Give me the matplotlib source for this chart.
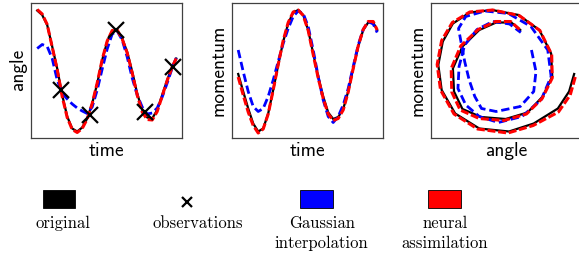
import matplotlib
matplotlib.use("Agg")
import matplotlib.pyplot as plt
from matplotlib.patches import Rectangle

# time grid (arbitrary units)
time = [0.0, 0.25, 0.5, 0.75, 1.0, 1.25, 1.5, 1.75, 2.0, 2.25, 2.5, 2.75, 3.0, 3.25,
        3.5, 3.75, 4.0, 4.25, 4.5, 4.75, 5.0, 5.25, 5.5, 5.75, 6.0, 6.25, 6.5, 6.75, 6.95]

# original trajectory
angle_true = [1.19, 1.10, 0.90, 0.47, 0.03, -0.50, -0.93, -1.17, -1.23, -1.15, -0.97, -0.67,
              -0.27, 0.20, 0.57, 0.78, 0.80, 0.63, 0.36, -0.03, -0.47, -0.80, -0.95, -0.97,
              -0.80, -0.50, -0.20, 0.07, 0.23]
momentum_true = [-0.08, -0.43, -0.77, -1.07, -1.23, -1.17, -0.87, -0.40, 0.10, 0.57, 0.93, 1.15,
                 1.20, 1.10, 0.80, 0.33, -0.13, -0.53, -0.85, -0.98, -0.94, -0.78, -0.43, 0.03,
                 0.47, 0.80, 0.95, 0.95, 0.80]

# Gaussian interpolation
angle_gp = [0.43, 0.51, 0.47, 0.23, -0.20, -0.46, -0.58, -0.68, -0.76, -0.82, -0.87, -0.74,
            -0.40, 0.02, 0.42, 0.72, 0.78, 0.60, 0.26, -0.16, -0.50, -0.74, -0.88, -0.86,
            -0.76, -0.54, -0.26, 0.04, 0.24]
momentum_gp = [0.40, -0.03, -0.43, -0.73, -0.83, -0.77, -0.53, -0.20, 0.17, 0.53, 0.83, 1.07,
               1.18, 1.13, 0.87, 0.40, -0.13, -0.60, -0.93, -1.05, -0.93, -0.70, -0.37, 0.07,
               0.50, 0.81, 0.97, 0.92, 0.75]

# neural assimilation
angle_nn = [1.21, 1.12, 0.91, 0.46, 0.01, -0.53, -0.95, -1.19, -1.25, -1.17, -0.98, -0.67,
            -0.26, 0.21, 0.58, 0.79, 0.80, 0.62, 0.34, -0.06, -0.50, -0.84, -0.99, -1.00,
            -0.83, -0.52, -0.21, 0.06, 0.23]
momentum_nn = [-0.14, -0.50, -0.84, -1.11, -1.26, -1.18, -0.88, -0.40, 0.11, 0.59, 0.95, 1.16,
               1.20, 1.09, 0.79, 0.31, -0.16, -0.57, -0.88, -1.01, -0.97, -0.80, -0.44, 0.03,
               0.48, 0.81, 0.97, 0.97, 0.80]

# observations of the angle
obs_time = [1.2, 2.615, 3.95, 5.365, 6.78]
obs_angle = [-0.40, -0.90, 0.80, -0.83, 0.07]

W, H = 579, 261
fig = plt.figure(figsize=(W / 100, H / 100), dpi=100)

label_font = dict(family="cmss10", size=14)
black_kw = dict(color="black", lw=1.6, zorder=2)
blue_kw = dict(color="blue", lw=2.0, ls=(0, (3, 1.4)), zorder=3)
red_kw = dict(color="red", lw=2.2, ls=(0, (2.6, 0.9)), zorder=4)


def make_axes(left):
    ax = fig.add_axes([left / W, (H - 138) / H, 151 / W, 135.5 / H])
    ax.set_xticks([])
    ax.set_yticks([])
    for s in ax.spines.values():
        s.set_color("0.25")
        s.set_linewidth(0.9)
    return ax


# angle vs time
ax1 = make_axes(31)
ax1.plot(time, angle_true, **black_kw)
ax1.plot(time, angle_gp, **blue_kw)
ax1.plot(time, angle_nn, **red_kw)
ax1.plot(obs_time, obs_angle, "x", color="black", ms=11, mew=1.6, zorder=5)
ax1.set_xlim(-0.31, 7.24)
ax1.set_ylim(-1.36, 1.35)
ax1.set_xlabel("time", fontdict=label_font, labelpad=3)
ax1.set_ylabel("angle", fontdict=label_font, labelpad=3)

# momentum vs time
ax2 = make_axes(232)
ax2.plot(time, momentum_true, **black_kw)
ax2.plot(time, momentum_gp, **blue_kw)
ax2.plot(time, momentum_nn, **red_kw)
ax2.set_xlim(-0.31, 7.24)
ax2.set_ylim(-1.36, 1.35)
ax2.set_xlabel("time", fontdict=label_font, labelpad=3)
ax2.set_ylabel("momentum", fontdict=label_font, labelpad=3)

# phase portrait
ax3 = make_axes(431)
ax3.plot(angle_true, momentum_true, **black_kw)
ax3.plot(angle_gp, momentum_gp, **blue_kw)
ax3.plot(angle_nn, momentum_nn, **red_kw)
ax3.set_xlim(-1.36, 1.33)
ax3.set_ylim(-1.36, 1.35)
ax3.set_xlabel("angle", fontdict=label_font, labelpad=3)
ax3.set_ylabel("momentum", fontdict=label_font, labelpad=3)

# legend drawn by hand: handle above the label
leg = fig.add_axes([0, 0, 1, 1])
leg.set_xlim(0, W)
leg.set_ylim(H, 0)
leg.axis("off")
leg.add_patch(Rectangle((43.3, 190), 32, 18.3, fc="black", ec="black", lw=0.6))
leg.plot([186.7], [201.7], "x", color="black", ms=7, mew=1.6)
leg.add_patch(Rectangle((300, 190), 32.7, 18.3, fc="blue", ec="black", lw=0.6))
leg.add_patch(Rectangle((428.3, 190), 32.7, 18.3, fc="red", ec="black", lw=0.6))

txt = dict(family="cmr10", size=12, ha="center", va="baseline")
leg.text(62.7, 227.7, "original", **txt)
leg.text(198.3, 227.7, "observations", **txt)
leg.text(321.7, 227.7, "Gaussian", **txt)
leg.text(321.7, 248.3, "interpolation", **txt)
leg.text(445, 227.7, "neural", **txt)
leg.text(445, 248.3, "assimilation", **txt)

fig.savefig("out.png", dpi=100)
